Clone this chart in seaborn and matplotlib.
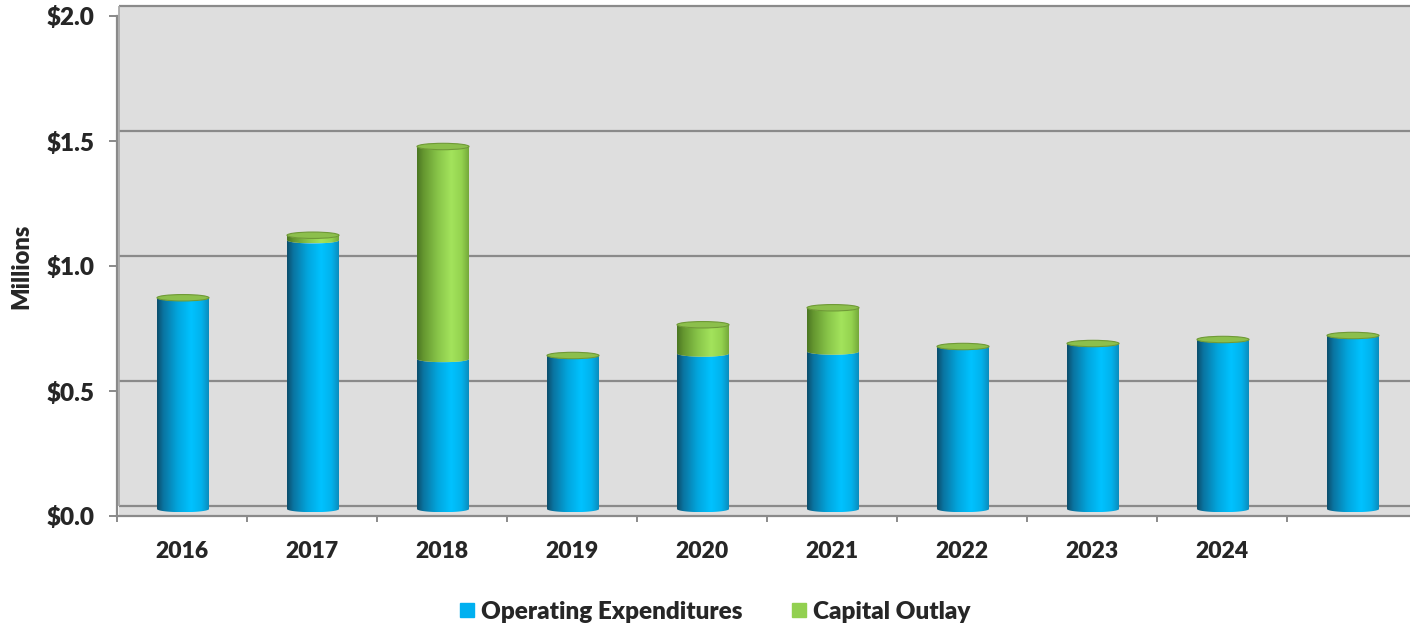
import numpy as np
import pandas as pd
import matplotlib
matplotlib.use("Agg")
import matplotlib.pyplot as plt
import seaborn as sns
from matplotlib.colors import LinearSegmentedColormap
from matplotlib.patches import Ellipse, Polygon, Rectangle
from matplotlib.transforms import ScaledTranslation
from matplotlib.lines import Line2D

# ---- data (millions of dollars) ----
years = ["2016", "2017", "2018", "2019", "2020", "2021", "2022", "2023", "2024", "2025"]
tick_labels = ["2016", "2017", "2018", "2019", "2020", "2021", "2022", "2023", "2024", ""]
operating = [0.845, 1.075, 0.600, 0.614, 0.622, 0.630, 0.650, 0.662, 0.678, 0.694]
capital = [0.000, 0.020, 0.850, 0.000, 0.115, 0.175, 0.000, 0.000, 0.000, 0.000]
y_ticks = [0.0, 0.5, 1.0, 1.5, 2.0]
y_tick_labels = ["$0.0", "$0.5", "$1.0", "$1.5", "$2.0"]
series_names = ["Operating Expenditures", "Capital Outlay"]

BLUE = "#00b0f0"
GREEN = "#92d050"
GRID = "#8a8a8a"
WALL = "#dedede"
TEXT_WEIGHT = 800

sns.set_style("white")
plt.rcParams["font.family"] = ["Lato", "DejaVu Sans"]

df = pd.DataFrame({"year": years, "operating": operating, "capital": capital})
df["total"] = df["operating"] + df["capital"]

W, H, DPI = 1410, 628, 100
fig = plt.figure(figsize=(W / DPI, H / DPI), dpi=DPI)
fig.patch.set_facecolor("white")
ax = fig.add_axes([117 / W, 112 / H, 1300 / W, 500 / H])
ax.set_facecolor("none")

# stacked bars: total first, operating on top of it
sns.barplot(data=df, x="year", y="total", order=years, color=GREEN, width=0.4,
            saturation=1, errorbar=None, ax=ax)
sns.barplot(data=df, x="year", y="operating", order=years, color=BLUE, width=0.4,
            saturation=1, errorbar=None, ax=ax)
n = len(years)
total_patches = ax.patches[:n]
oper_patches = ax.patches[n:2 * n]

ax.set_xlim(-0.5, n - 0.5)
ax.set_ylim(0, 2.0)

# depth offsets of the pseudo-3D box
def shift(dx, dy):
    return ax.transData + ScaledTranslation(dx / DPI, dy / DPI, fig.dpi_scale_trans)

wall_t = shift(2, 10)   # back wall
bar_t = shift(1, 7)     # bars sit mid-depth

# back wall + floor
ax.add_patch(Rectangle((-0.5, -0.04), n, 2.04, transform=wall_t, facecolor=WALL,
                       edgecolor="none", zorder=0, clip_on=False))
ax.hlines(y_ticks, -0.5, n - 0.5, transform=wall_t, colors=GRID, linewidth=1.6,
          zorder=1, clip_on=False)
ax.vlines([-0.5], 0, 2.0, transform=wall_t, colors="#a6a6a6", linewidth=1.2,
          zorder=1, clip_on=False)

# cylinder gradients
blue_cmap = LinearSegmentedColormap.from_list("cyl_blue", [
    (0.0, "#0b4d6b"), (0.12, "#0a74a0"), (0.40, "#02a6de"),
    (0.66, "#00c2ff"), (0.86, "#02b2ec"), (1.0, "#0a8cbd")])
green_cmap = LinearSegmentedColormap.from_list("cyl_green", [
    (0.0, "#4a7522"), (0.12, "#64962f"), (0.40, "#88c549"),
    (0.66, "#a3e35c"), (0.86, "#94d34f"), (1.0, "#74a83a")])
grad = np.linspace(0, 1, 256).reshape(1, -1)

px_per_unit = ax.transData.transform((0, 1))[1] - ax.transData.transform((0, 0))[1]
b = 3.2 / px_per_unit   # half-height of the elliptical ends


def cylinder(x0, w, y0, y1, cmap):
    if y1 - y0 <= 1e-9:
        return
    xc, a = x0 + w / 2, w / 2
    t = np.linspace(0, np.pi, 80)
    xs = xc - a * np.cos(t)
    arc = b * np.sin(t)
    top = np.column_stack([xs, y1 - arc])
    bot = np.column_stack([xs[::-1], y0 - arc[::-1]])
    clip = Polygon(np.vstack([top, bot]), closed=True, transform=bar_t)
    img = ax.imshow(grad, cmap=cmap, extent=[x0, x0 + w, y0 - b, y1], aspect="auto",
                    origin="lower", interpolation="bilinear", zorder=3)
    img.set_transform(bar_t)
    img.set_clip_path(clip)


for tp, op in zip(total_patches, oper_patches):
    x0, w = op.get_x(), op.get_width()
    y_op, y_tot = op.get_height(), tp.get_height()
    cylinder(x0, w, 0.0, y_op, blue_cmap)
    cylinder(x0, w, y_op, y_tot, green_cmap)
    ax.add_patch(Ellipse((x0 + w / 2, y_tot), w, 2 * b, transform=bar_t,
                         facecolor="#8cbf4c", edgecolor="#6f9a36", linewidth=0.8,
                         zorder=4))
    tp.set_visible(False)
    op.set_visible(False)

ax.set_xlim(-0.5, n - 0.5)
ax.set_ylim(0, 2.0)
ax.set_aspect("auto")

# axes styling
for side in ("top", "right"):
    ax.spines[side].set_visible(False)
for side in ("left", "bottom"):
    ax.spines[side].set_color(GRID)
    ax.spines[side].set_linewidth(1.6)
    ax.spines[side].set_zorder(2)

ax.set_yticks(y_ticks)
ax.set_yticklabels(y_tick_labels, fontsize=17.5, fontweight=TEXT_WEIGHT)
ax.set_xticks(range(n))
ax.set_xticklabels(tick_labels, fontsize=16.5, fontweight=TEXT_WEIGHT)
ax.set_xticks(np.arange(-0.5, n), minor=True)
ax.tick_params(axis="y", which="major", length=5.5, width=1.4, color=GRID, pad=11,
               left=True)
ax.tick_params(axis="x", which="major", length=0, pad=18)
ax.tick_params(axis="x", which="minor", length=4.5, width=1.4, color=GRID, bottom=True)
ax.set_xlabel("")
ax.set_ylabel("Millions", fontsize=17, fontweight=TEXT_WEIGHT, labelpad=10)

handles = [Line2D([], [], marker="s", linestyle="none", markersize=10,
                  markerfacecolor=c, markeredgecolor=c) for c in (BLUE, GREEN)]
fig.legend(handles, series_names, loc="center", bbox_to_anchor=(714 / W, 1 - 612 / H),
           ncol=2, frameon=False, prop=dict(weight=TEXT_WEIGHT, size=17.5),
           handletextpad=0.2, columnspacing=1.9, handlelength=0.8)

fig.savefig("out.png", dpi=DPI, facecolor="white")
